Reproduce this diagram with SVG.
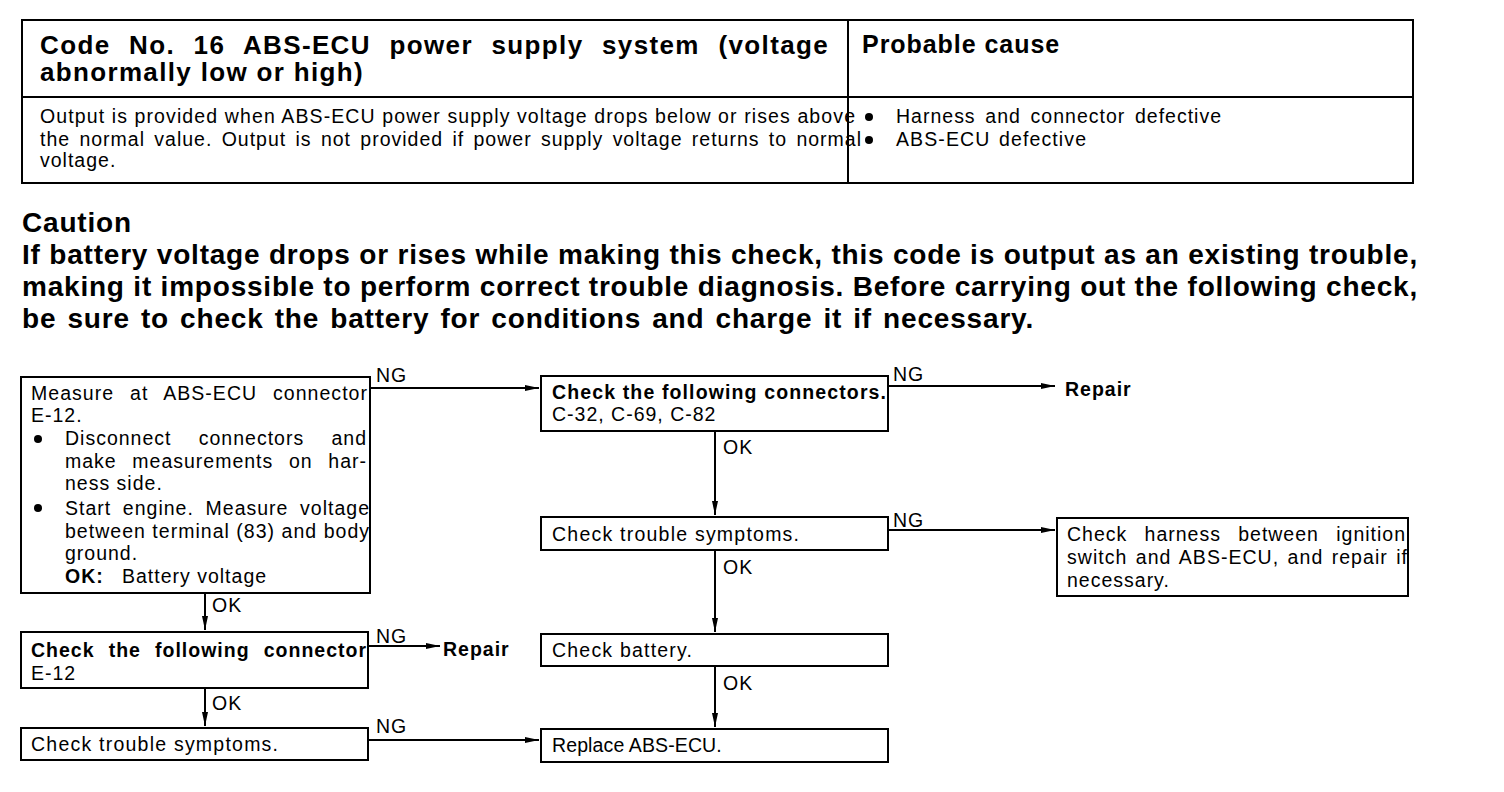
<svg xmlns="http://www.w3.org/2000/svg" width="1504" height="792" viewBox="0 0 1504 792">
<defs>
<marker id="ah" viewBox="0 0 14 8" refX="14" refY="4" markerWidth="14" markerHeight="8" markerUnits="userSpaceOnUse" orient="auto">
<path d="M0,1 L14,4 L0,7 Z" fill="#000"/>
</marker>
<style>
.t{font-family:"Liberation Sans",Arial,sans-serif;fill:#000}
.n{font-size:19.5px;letter-spacing:1px}
.b{font-weight:bold}
.h{font-size:26px;font-weight:bold;letter-spacing:1.3px}
.c{font-size:28px;font-weight:bold;letter-spacing:0.8px}
.box{fill:#fff;stroke:#000;stroke-width:2}
.ln{fill:none;stroke:#000;stroke-width:2}
.ar{fill:none;stroke:#000;stroke-width:2;marker-end:url(#ah)}
</style>
</defs>
<rect width="1504" height="792" fill="#fff"/>

<g id="header">
<rect x="22" y="20" width="1391" height="163" class="box"/>
<line x1="22" y1="97" x2="1413" y2="97" class="ln"/>
<line x1="848" y1="20" x2="848" y2="183" class="ln"/>
<text class="t h" x="40" y="54" word-spacing="10" textLength="789" lengthAdjust="spacing">Code No. 16 ABS-ECU power supply system (voltage</text>
<text class="t h" x="40" y="81" textLength="324" lengthAdjust="spacing">abnormally low or high)</text>
<text class="t b" x="862" y="53" style="font-size:25px;letter-spacing:0.8px" textLength="198" lengthAdjust="spacing">Probable cause</text>
<text class="t n" x="40" y="123" textLength="816" lengthAdjust="spacing">Output is provided when ABS-ECU power supply voltage drops below or rises above</text>
<text class="t n" x="40" y="146" word-spacing="2.9" textLength="822" lengthAdjust="spacing">the normal value. Output is not provided if power supply voltage returns to normal</text>
<text class="t n" x="40" y="167">voltage.</text>
<circle cx="869" cy="117" r="4" fill="#000"/>
<circle cx="869" cy="140" r="4" fill="#000"/>
<text class="t n" x="896" y="123" word-spacing="3.3" textLength="326" lengthAdjust="spacing">Harness and connector defective</text>
<text class="t n" x="896" y="146" word-spacing="2" textLength="191" lengthAdjust="spacing">ABS-ECU defective</text>
</g>

<g id="caution">
<text class="t c" x="22" y="232">Caution</text>
<text class="t c" x="22" y="264" textLength="1396" lengthAdjust="spacing">If battery voltage drops or rises while making this check, this code is output as an existing trouble,</text>
<text class="t c" x="22" y="296" textLength="1396" lengthAdjust="spacing">making it impossible to perform correct trouble diagnosis. Before carrying out the following check,</text>
<text class="t c" x="22" y="328" word-spacing="2.5" textLength="1012" lengthAdjust="spacing">be sure to check the battery for conditions and charge it if necessary.</text>
</g>

<g id="connectors">
<path d="M370,388 H539" class="ar"/>
<text class="t n" x="376" y="382">NG</text>
<path d="M888,386 H1055" class="ar"/>
<text class="t n" x="893" y="381">NG</text>
<path d="M715,431 V515" class="ar"/>
<text class="t n" x="723" y="454">OK</text>
<path d="M888,530 H1055" class="ar"/>
<text class="t n" x="893" y="527">NG</text>
<path d="M715,550 V632" class="ar"/>
<text class="t n" x="723" y="574">OK</text>
<path d="M715,666 V727" class="ar"/>
<text class="t n" x="723" y="690">OK</text>
<path d="M205,593 V630" class="ar"/>
<text class="t n" x="212" y="612">OK</text>
<path d="M368,646 H440" class="ar"/>
<text class="t n" x="376" y="643">NG</text>
<path d="M205,688 V726" class="ar"/>
<text class="t n" x="212" y="710">OK</text>
<path d="M368,740 H539" class="ar"/>
<text class="t n" x="376" y="733">NG</text>
</g>

<g id="measure">
<rect x="21" y="377" width="349" height="216" class="box"/>
<text class="t n" x="31" y="400" word-spacing="9.4" textLength="337" lengthAdjust="spacing">Measure at ABS-ECU connector</text>
<text class="t n" x="31" y="422">E-12.</text>
<circle cx="38" cy="439" r="4" fill="#000"/>
<text class="t n" x="65" y="445" word-spacing="20.9" textLength="302" lengthAdjust="spacing">Disconnect connectors and</text>
<text class="t n" x="65" y="468" word-spacing="9.3" textLength="302" lengthAdjust="spacing">make measurements on har-</text>
<text class="t n" x="65" y="490">ness side.</text>
<circle cx="38" cy="508" r="4" fill="#000"/>
<text class="t n" x="65" y="515" word-spacing="5.3" textLength="305" lengthAdjust="spacing">Start engine. Measure voltage</text>
<text class="t n" x="65" y="538" textLength="305" lengthAdjust="spacing">between terminal (83) and body</text>
<text class="t n" x="65" y="560">ground.</text>
<text class="t n" x="65" y="583"><tspan class="b">OK:</tspan><tspan x="122">Battery voltage</tspan></text>
</g>

<g id="check-connectors">
<rect x="541" y="376" width="347" height="55" class="box"/>
<text class="t n b" x="552" y="399" textLength="335" lengthAdjust="spacing">Check the following connectors.</text>
<text class="t n" x="552" y="421">C-32, C-69, C-82</text>
</g>

<g id="repair1">
<text class="t n b" x="1065" y="396">Repair</text>
</g>

<g id="check-symptoms-r">
<rect x="541" y="517" width="347" height="33" class="box"/>
<text class="t n" x="552" y="541" textLength="248" lengthAdjust="spacing">Check trouble symptoms.</text>
</g>

<g id="check-harness">
<rect x="1057" y="518" width="351" height="78" class="box"/>
<text class="t n" x="1067" y="541" word-spacing="10.9" textLength="339" lengthAdjust="spacing">Check harness between ignition</text>
<text class="t n" x="1067" y="564" word-spacing="2" textLength="341" lengthAdjust="spacing">switch and ABS-ECU, and repair if</text>
<text class="t n" x="1067" y="587">necessary.</text>
</g>

<g id="check-battery">
<rect x="541" y="634" width="347" height="32" class="box"/>
<text class="t n" x="552" y="657" textLength="141" lengthAdjust="spacing">Check battery.</text>
</g>

<g id="replace-ecu">
<rect x="541" y="729" width="347" height="33" class="box"/>
<text class="t n" x="552" y="752" style="letter-spacing:0.3px" textLength="170" lengthAdjust="spacing">Replace ABS-ECU.</text>
</g>

<g id="check-connector-e12">
<rect x="21" y="632" width="347" height="56" class="box"/>
<text class="t n b" x="31" y="657" word-spacing="7.7" textLength="336" lengthAdjust="spacing">Check the following connector</text>
<text class="t n" x="31" y="680">E-12</text>
</g>

<g id="repair2">
<text class="t n b" x="443" y="656">Repair</text>
</g>

<g id="check-symptoms-l">
<rect x="21" y="728" width="347" height="32" class="box"/>
<text class="t n" x="31" y="751" textLength="248" lengthAdjust="spacing">Check trouble symptoms.</text>
</g>
</svg>
